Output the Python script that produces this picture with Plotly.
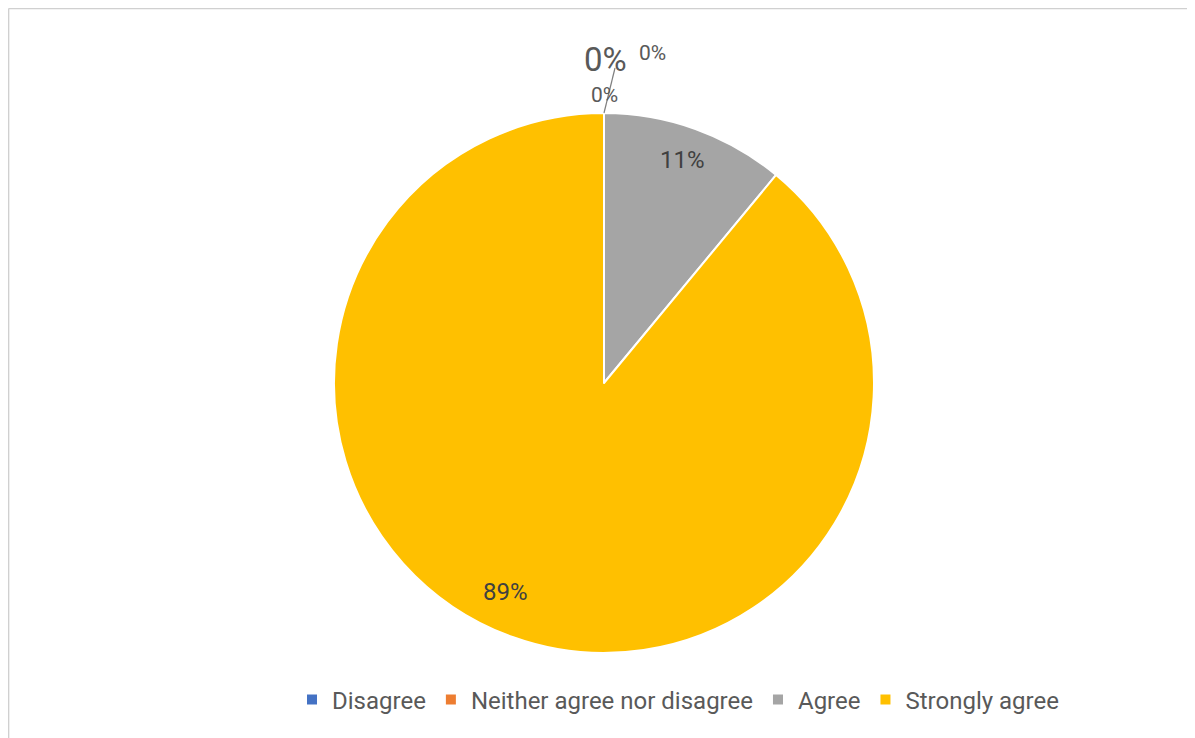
import plotly.graph_objects as go

labels = ["Disagree", "Neither agree nor disagree", "Agree", "Strongly agree"]
values = [0, 0, 11, 89]
colors = ["#4472C4", "#ED7D31", "#A5A5A5", "#FFC000"]

W, H = 1195, 738
OFF = 8  # page body margin
cx, cy, R = 604 - OFF, 383 - OFF, 270  # pixel centre / radius of the pie


def px2paper(x, y):
    return (x - OFF) / W, 1 - (y - OFF) / H


fig = go.Figure(go.Pie(
    labels=labels,
    values=values,
    sort=False,
    direction="clockwise",
    rotation=0,
    marker=dict(colors=colors, line=dict(color="white", width=2)),
    textinfo="none",
    hoverinfo="label+percent",
    domain=dict(x=[(cx - R) / W, (cx + R) / W], y=[(H - cy - R) / H, (H - cy + R) / H]),
    showlegend=True,
))

total = sum(values)
font = "Roboto, Arial, sans-serif"

# label placement (page pixels) and font size for each slice's percentage
label_pos = [(652, 53, 21), (605, 60, 33), (682, 160, 24), (505, 592, 24)]
label_col = ["#595959", "#595959", "#404040", "#404040"]
annotations = []
for v, (lx, ly, s), col in zip(values, label_pos, label_col):
    x, y = px2paper(lx, ly)
    annotations.append(dict(
        x=x, y=y, xref="paper", yref="paper", xanchor="center", yanchor="middle",
        text=f"{round(v / total * 100)}%", showarrow=False,
        font=dict(family=font, size=s, color=col),
    ))
# third zero label under the leader line
x, y = px2paper(604, 95)
annotations.append(dict(
    x=x, y=y, xref="paper", yref="paper", xanchor="center", yanchor="middle",
    text="0%", showarrow=False, font=dict(family=font, size=21, color="#595959"),
))

lx0, ly0 = (cx) / W, 1 - (cy - R) / H
lx1, ly1 = px2paper(615, 68)
shapes = [
    # leader line
    dict(type="line", xref="paper", yref="paper", x0=lx0, y0=ly0, x1=lx1, y1=ly1,
         line=dict(color="#7F7F7F", width=1.2)),
    # chart-area border
    dict(type="line", xref="paper", yref="paper", x0=0.6 / W, y0=1 - 0.6 / H, x1=1183 / W, y1=1 - 0.6 / H,
         line=dict(color="#D0D0D0", width=1.5)),
    dict(type="line", xref="paper", yref="paper", x0=0.6 / W, y0=1 - 0.6 / H, x1=0.6 / W, y1=0,
         line=dict(color="#D0D0D0", width=1.5)),
    dict(type="line", xref="paper", yref="paper", x0=1183 / W, y0=1 - 0.6 / H, x1=1183 / W, y1=0,
         line=dict(color="#EBEBEB", width=1)),
]

lgx, lgy = px2paper(678, 700)
fig.update_layout(
    width=W, height=H,
    margin=dict(l=0, r=0, t=0, b=0),
    paper_bgcolor="white",
    plot_bgcolor="white",
    font=dict(family=font, size=24, color="#595959"),
    legend=dict(
        orientation="h", x=lgx, xanchor="center", y=lgy, yanchor="middle",
        font=dict(family=font, size=24, color="#595959"),
        traceorder="normal", itemwidth=30,
    ),
    annotations=annotations,
    shapes=shapes,
)

fig.write_html("out.html")
